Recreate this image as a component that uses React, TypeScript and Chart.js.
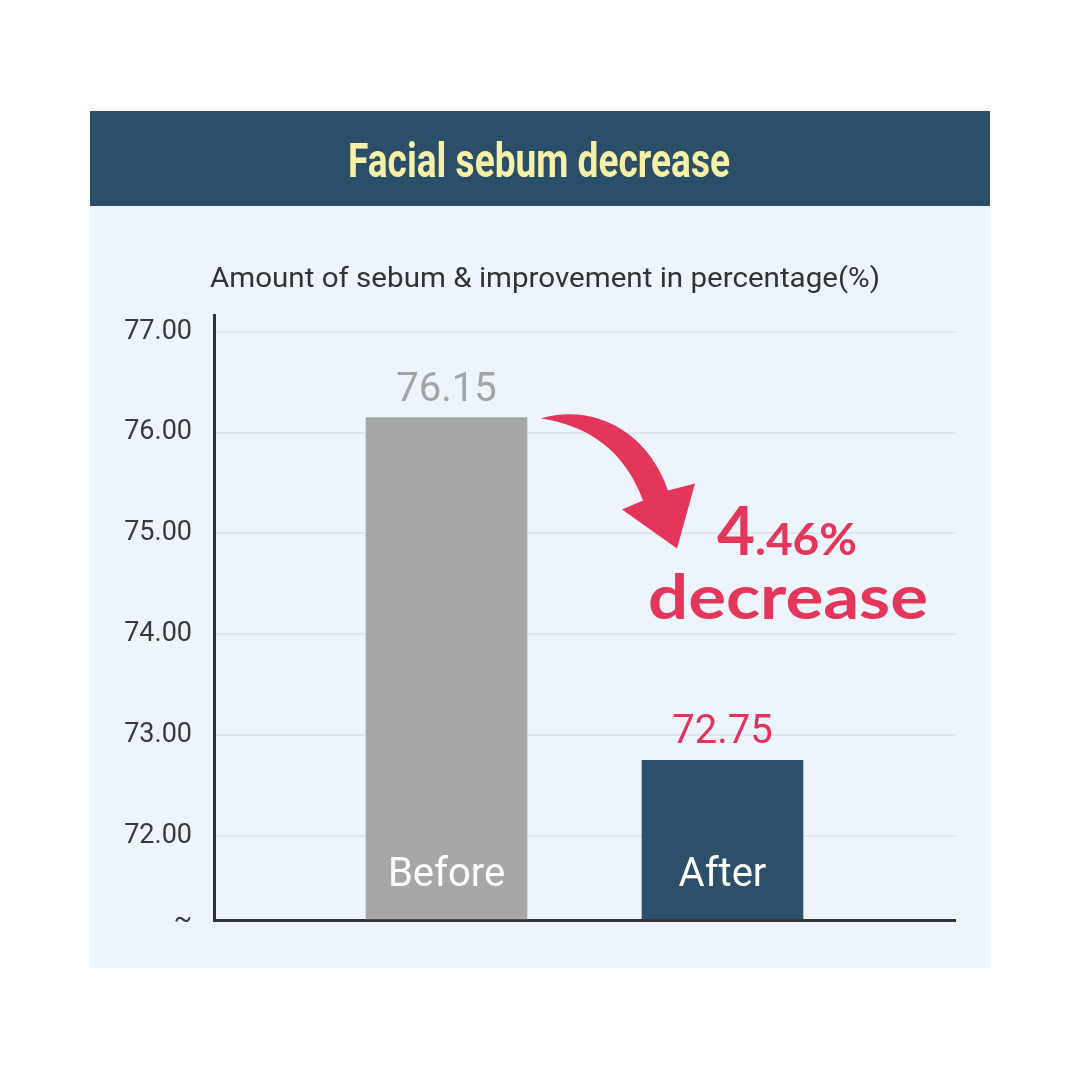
import React, { useEffect, useRef } from "react";
import { Chart, registerables } from "chart.js";

Chart.register(...registerables);

// ---- data ----
const categories = ["Before", "After"];
const values = [76.15, 72.75];
const valueLabels = ["76.15", "72.75"];
const yTickValues = [72, 73, 74, 75, 76, 77];
const yMin = 71 + 1 / 6;
const yMax = 77 + 1 / 6;
const chartTitle = "Facial sebum decrease";
const axisTitle = "Amount of sebum & improvement in percentage(%)";
const changeBig = "4";
const changeSmall = ".46%";
const changeWord = "decrease";

const barColors = ["#a6a8a7", "#2d4f69"];
const valueColors = ["#a3a5a4", "#e0355a"];
const RED = "#e4355a";

function fitText(ctx: CanvasRenderingContext2D, text: string, x: number, y: number, width: number, align: string) {
  const w = ctx.measureText(text).width;
  const s = width / w;
  ctx.save();
  ctx.translate(x, y);
  ctx.scale(s, 1);
  ctx.textAlign = "left";
  const startX = align === "center" ? -w / 2 : align === "right" ? -w : 0;
  ctx.fillText(text, startX, 0);
  ctx.restore();
}

const decorPlugin = {
  id: "decor",
  beforeDraw(chart: any) {
    const ctx = chart.ctx as CanvasRenderingContext2D;
    ctx.save();
    ctx.fillStyle = "#ffffff";
    ctx.fillRect(0, 0, chart.width, chart.height);
    // panel
    ctx.fillStyle = "#edf4fb";
    ctx.fillRect(90, 111, 900, 857);
    // header
    ctx.fillStyle = "#2c4f69";
    ctx.fillRect(90, 111, 900, 95);
    ctx.fillStyle = "#f6f1a6";
    ctx.font = "bold 48px Roboto";
    ctx.textBaseline = "alphabetic";
    fitText(ctx, chartTitle, 539, 177, 382, "center");
    // axis title
    ctx.fillStyle = "#333333";
    ctx.font = "27px Roboto";
    fitText(ctx, axisTitle, 210, 287, 670, "left");
    ctx.restore();
  },
  afterDatasetsDraw(chart: any) {
    const ctx = chart.ctx as CanvasRenderingContext2D;
    const meta = chart.getDatasetMeta(0);
    ctx.save();
    ctx.textBaseline = "alphabetic";
    meta.data.forEach((bar: any, i: number) => {
      // value above bar
      ctx.fillStyle = valueColors[i];
      ctx.font = "40px Roboto";
      ctx.textAlign = "center";
      ctx.fillText(valueLabels[i], bar.x, bar.y - 17);
      // category inside bar
      ctx.fillStyle = "#ffffff";
      ctx.font = "40px Roboto";
      ctx.fillText(categories[i], bar.x, chart.chartArea.bottom - 34);
    });

    // arrow anchored at the right edge of the first bar's top
    const b0 = meta.data[0];
    const ox = b0.x + b0.width / 2;
    const oy = b0.y;
    const P = (dx: number, dy: number) => [ox + dx, oy + dy];
    ctx.fillStyle = RED;
    ctx.beginPath();
    let p = P(14, 1);
    ctx.moveTo(p[0], p[1]);
    let c1 = P(65, -14), c2 = P(120, 12), e = P(141, 73);
    ctx.bezierCurveTo(c1[0], c1[1], c2[0], c2[1], e[0], e[1]);
    p = P(168, 66); ctx.lineTo(p[0], p[1]);
    p = P(150, 131); ctx.lineTo(p[0], p[1]);
    p = P(95, 92); ctx.lineTo(p[0], p[1]);
    p = P(116, 83); ctx.lineTo(p[0], p[1]);
    c1 = P(98, 34); c2 = P(62, 8); e = P(14, 1);
    ctx.bezierCurveTo(c1[0], c1[1], c2[0], c2[1], e[0], e[1]);
    ctx.closePath();
    ctx.fill();

    // change text
    ctx.fillStyle = RED;
    ctx.textAlign = "left";
    ctx.font = "bold 66px Lato";
    fitText(ctx, changeBig, ox + 190, oy + 137, 38, "left");
    ctx.font = "bold 44px Lato";
    fitText(ctx, changeSmall, ox + 228, oy + 137, 102, "left");
    ctx.font = "bold 62px Lato";
    fitText(ctx, changeWord, ox + 121, oy + 201, 280, "left");
    ctx.restore();
  },
};

export default function App() {
  const ref = useRef<HTMLCanvasElement | null>(null);
  useEffect(() => {
    if (!ref.current) return;
    const chart = new Chart(ref.current, {
      type: "bar",
      data: {
        labels: categories,
        datasets: [
          {
            data: values.map((v, i) => ({ x: i + 1, y: v })) as any,
            backgroundColor: barColors,
            barThickness: 161,
            base: yMin,
            borderWidth: 0,
          } as any,
        ],
      },
      options: {
        animation: false,
        responsive: false,
        layout: { padding: { left: 0, right: 125, top: 315, bottom: 160 } },
        plugins: { legend: { display: false }, tooltip: { enabled: false }, title: { display: false } },
        scales: {
          x: {
            type: "linear",
            offset: false,
            min: 1 - 232.5 / 276,
            max: 2 + 232.5 / 276,
            z: 1,
            grid: { display: false, drawTicks: false },
            border: { display: true, color: "#333333", width: 3 },
            ticks: { display: false },
            afterFit: (s: any) => { s.height = 0; },
          },
          y: {
            type: "linear",
            min: yMin,
            max: yMax,
            afterBuildTicks: (s: any) => {
              s.ticks = [yMin, ...yTickValues, yMax].map((v) => ({ value: v }));
            },
            afterFit: (s: any) => { s.width = 214; },
            grid: {
              drawTicks: false,
              color: (c: any) => (yTickValues.includes(c.tick?.value) ? "#dfe6ec" : "rgba(0,0,0,0)"),
              lineWidth: 2,
            },
            border: { display: true, color: "#333333", width: 3 },
            ticks: {
              padding: 22,
              color: "#3a3a3a",
              font: { family: "Roboto", size: 27 },
              callback: (v: any) => {
                const n = Number(v);
                if (Math.abs(n - yMin) < 1e-6) return "~";
                if (Math.abs(n - yMax) < 1e-6) return "";
                return n.toFixed(2);
              },
            },
          },
        },
      } as any,
      plugins: [decorPlugin],
    });
    return () => chart.destroy();
  }, []);
  return (
    <div style={{ position: "absolute", left: 0, top: 0, width: 1080, height: 1080, background: "#fff" }}>
      <canvas ref={ref} width={1080} height={1080} style={{ display: "block", width: 1080, height: 1080 }} />
    </div>
  );
}
